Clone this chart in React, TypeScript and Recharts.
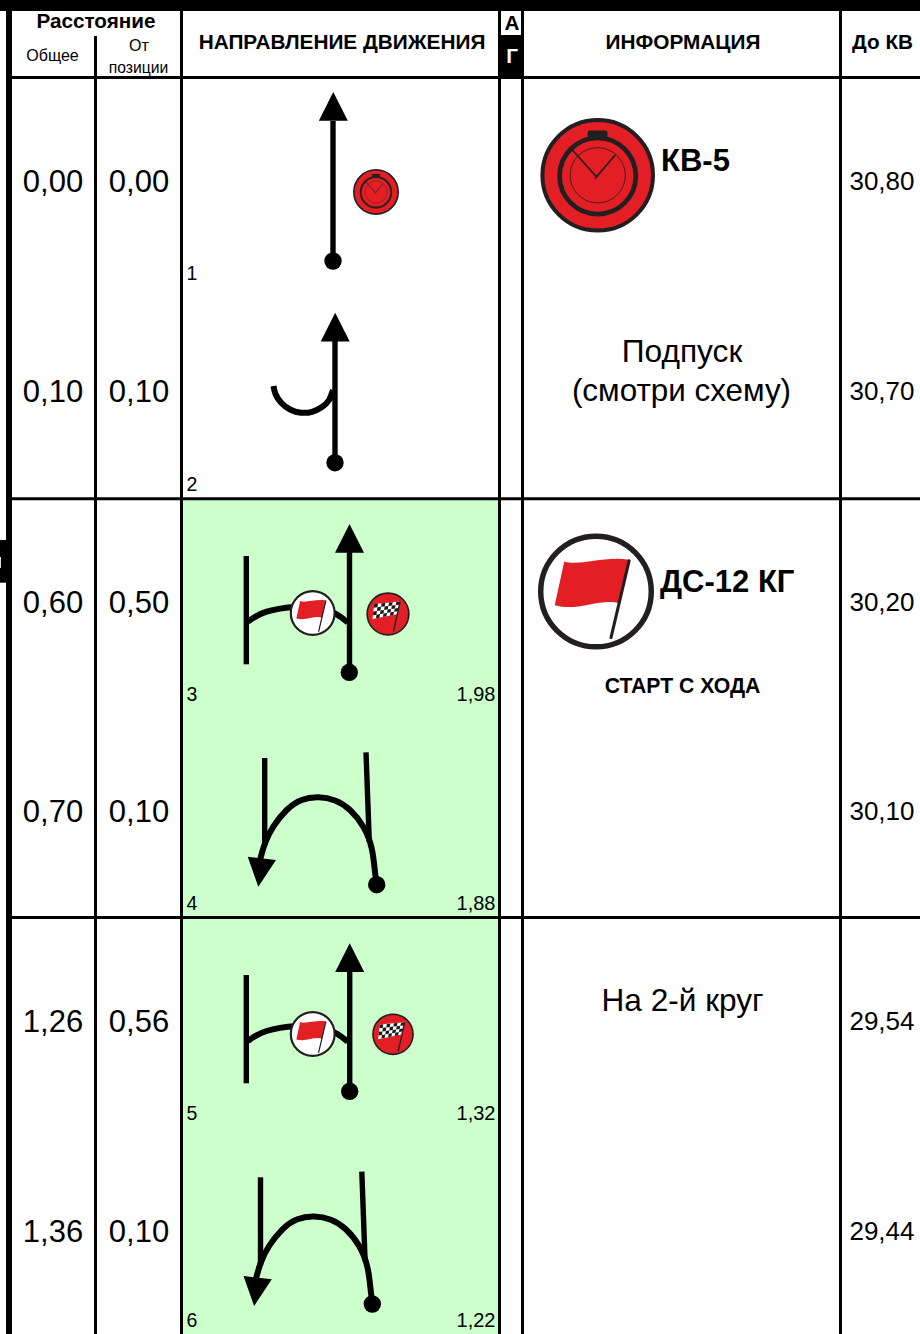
import React from "react";
import { ComposedChart, Line, Scatter, XAxis, YAxis, ReferenceArea } from "recharts";

// ---------- values ----------
const totalKm = ["0,00", "0,10", "0,60", "0,70", "1,26", "1,36"];
const fromPosition = ["0,00", "0,10", "0,50", "0,10", "0,56", "0,10"];
const toCheckpoint = ["30,80", "30,70", "30,20", "30,10", "29,54", "29,44"];
const rowNumbers = ["1", "2", "3", "4", "5", "6"];
const lapRemaining = ["", "", "1,98", "1,88", "1,32", "1,22"];
const headerBold = ["Расстояние", "НАПРАВЛЕНИЕ ДВИЖЕНИЯ", "ИНФОРМАЦИЯ", "До КВ"];
const headerSmall = ["Общее", "От", "позиции"];
const infoBig = ["КВ-5", "ДС-12 КГ"];
const infoNormal = ["Подпуск", "(смотри схему)", "На 2-й круг"];
const infoSmall = "СТАРТ С ХОДА";

// ---------- layout ----------
const W = 920;
const H = 1334;
const FONT = "'Liberation Sans', Arial, sans-serif";
const RED = "#e31e24";
const DARK = "#231f20";
const rowBase = [192, 402, 613, 822, 1032, 1242];
const numBase = [280, 491, 701, 910, 1120, 1327];

type P = { x: number; y: number };
const pts = (a: number[][], dx = 0, dy = 0): P[] => a.map(([x, y]) => ({ x: x + dx, y: y + dy }));

const gridV = [
  [95.5, 36, H],
  [181.5, 11, H],
  [499.5, 11, H],
  [522.5, 11, H],
  [840.5, 11, H],
];
const gridH = [77.5, 498.7, 917.5];

const hook = [[273.5, 386], [275.5, 394], [281, 402.5], [290, 409.5], [301, 412.7], [312, 411.8], [322, 407], [329, 400], [333, 390]];
const saddle = [[248, 621.7], [256, 616.3], [266.7, 611.7], [280, 608.6], [295, 607], [312, 608], [327, 610.5], [337, 614.5], [347.7, 622.3]];
const uturn = [[376.7, 884], [375, 872], [371.7, 848.3], [363.3, 826.7], [350, 810], [335, 800.5], [318.3, 797.3], [301.7, 800], [286.7, 810], [273.3, 826.7], [265, 843.3], [260, 860]];

const stems: P[][] = [
  pts([[333, 121], [333, 261]]),
  pts([[335, 341], [335, 463]]),
  pts([[349.5, 552], [349.5, 672]]),
  pts([[246.3, 556], [246.3, 664.3]]),
  pts([[264.7, 758], [264.7, 846]]),
  pts([[366, 752.3], [369.3, 842]]),
  pts([[349.7, 971], [349.7, 1091]]),
  pts([[246.3, 975], [246.3, 1083.3]]),
  pts([[264.7, 758], [264.7, 846]], -4.2, 419.3),
  pts([[366, 752.3], [369.3, 842]], -4.2, 419.3),
];
const curves: P[][] = [pts(hook), pts(saddle), pts(uturn), pts(saddle, 0, 419.3), pts(uturn, -4.2, 419.3)];

const arrowUp = [[0, 0], [14.5, 28.7], [-14.5, 28.7]];
const arrowDown = [[0, 0], [-10.6, -30], [17.7, -26.7]];
const arrows = [
  { x: 333.3, y: 92, v: arrowUp },
  { x: 335.2, y: 312.7, v: arrowUp },
  { x: 349.5, y: 524, v: arrowUp },
  { x: 258.3, y: 886.7, v: arrowDown },
  { x: 349.7, y: 943.3, v: arrowUp },
  { x: 254.1, y: 1306, v: arrowDown },
];
const dots = pts([[333, 261], [335, 462.7], [349.3, 672.3], [376.7, 884.7], [349.7, 1091.3], [372.3, 1304]]);
const clocks = [{ x: 376, y: 192, r: 23 }, { x: 597.7, y: 175.3, r: 57.3 }];
const flags = [{ x: 312.7, y: 613, r: 23 }, { x: 596, y: 591.5, r: 58 }, { x: 312.7, y: 1034, r: 23 }];
const checkers = [{ x: 388, y: 614, r: 21.5 }, { x: 393, y: 1034.3, r: 20.7 }];

type T = P & { t: string; size: number; bold?: boolean; anchor?: string; fill?: string };
const texts: T[] = [
  { x: 96, y: 28, t: headerBold[0], size: 20.7, bold: true },
  { x: 342, y: 49, t: headerBold[1], size: 20.8, bold: true },
  { x: 683, y: 49, t: headerBold[2], size: 20.8, bold: true },
  { x: 882.5, y: 49, t: headerBold[3], size: 20.7, bold: true },
  { x: 52.5, y: 61, t: headerSmall[0], size: 16 },
  { x: 139, y: 51, t: headerSmall[1], size: 16 },
  { x: 138.5, y: 73, t: headerSmall[2], size: 15.7 },
  { x: 512, y: 30, t: "А", size: 20.7, bold: true },
  { x: 512, y: 63, t: "Г", size: 20.7, bold: true, fill: "#fff" },
  { x: 661, y: 171, t: infoBig[0], size: 31, bold: true, anchor: "start" },
  { x: 660, y: 592, t: infoBig[1], size: 31, bold: true, anchor: "start" },
  { x: 682, y: 362, t: infoNormal[0], size: 31.7 },
  { x: 681.5, y: 401, t: infoNormal[1], size: 31.4 },
  { x: 682.5, y: 1011, t: infoNormal[2], size: 31.6 },
  { x: 682.5, y: 693, t: infoSmall, size: 21.2, bold: true },
  ...totalKm.map((t, i) => ({ x: 53, y: rowBase[i], t, size: 31 })),
  ...fromPosition.map((t, i) => ({ x: 139, y: rowBase[i], t, size: 31 })),
  ...toCheckpoint.map((t, i) => ({ x: 882, y: rowBase[i] - 1.7, t, size: 26 })),
  ...rowNumbers.map((t, i) => ({ x: 186.5, y: numBase[i], t, size: 19.5, anchor: "start" })),
  ...lapRemaining.map((t, i) => ({ x: 495.5, y: numBase[i], t, size: 20, anchor: "end" })).filter((d) => d.t),
];

// ---------- icon drawings ----------
function ClockIcon({ cx, cy, r }: { cx: number; cy: number; r: number }) {
  const s = r / 170;
  return (
    <g transform={`translate(${cx},${cy}) scale(${s}) translate(-293,-525)`}>
      <circle cx={293} cy={525} r={164} fill={RED} stroke={DARK} strokeWidth={12} />
      <circle cx={293} cy={527} r={113} fill="none" stroke={DARK} strokeWidth={14} />
      <circle cx={293} cy={525} r={82} fill="none" stroke={DARK} strokeWidth={2.5} />
      <rect x={263} y={392} width={59} height={22} rx={7} fill={DARK} />
      <path d="M215 447 L291 531 M345 465 L285 535" fill="none" stroke={DARK} strokeWidth={5} />
    </g>
  );
}
function FlagIcon({ cx, cy, r }: { cx: number; cy: number; r: number }) {
  const s = r / 170;
  return (
    <g transform={`translate(${cx},${cy}) scale(${s}) translate(-228,-245)`}>
      <circle cx={228} cy={245} r={162} fill="#fff" stroke={DARK} strokeWidth={16} />
      <path d="M135 157 C180 172 250 140 325 152 L298 280 C240 262 180 305 107 285 Z" fill={RED} />
      <path d="M325 155 L272 380" stroke={DARK} strokeWidth={9} strokeLinecap="round" fill="none" />
    </g>
  );
}
function CheckerIcon({ cx, cy, r }: { cx: number; cy: number; r: number }) {
  const s = r / 64;
  const tl = [583, 312], tr = [660, 305], br = [650, 343], bl = [578, 357];
  const at = (u: number, v: number) => {
    const ax = tl[0] + (tr[0] - tl[0]) * u, ay = tl[1] + (tr[1] - tl[1]) * u;
    const bx = bl[0] + (br[0] - bl[0]) * u, by = bl[1] + (br[1] - bl[1]) * u;
    return `${ax + (bx - ax) * v},${ay + (by - ay) * v}`;
  };
  const cells: string[] = [];
  const cols = 7, rws = 4;
  for (let i = 0; i < cols; i++)
    for (let j = 0; j < rws; j++)
      if ((i + j) % 2 === 0)
        cells.push(`${at(i / cols, j / rws)} ${at((i + 1) / cols, j / rws)} ${at((i + 1) / cols, (j + 1) / rws)} ${at(i / cols, (j + 1) / rws)}`);
  return (
    <g transform={`translate(${cx},${cy}) scale(${s}) translate(-624,-342)`}>
      <circle cx={624} cy={342} r={62} fill={RED} stroke={DARK} strokeWidth={5} />
      <polygon points={`${at(0, 0)} ${at(1, 0)} ${at(1, 1)} ${at(0, 1)}`} fill="#fff" />
      {cells.map((c, i) => <polygon key={i} points={c} fill="#1a1a1a" />)}
      <path d="M660 305 L640 395" stroke={DARK} strokeWidth={4} fill="none" />
    </g>
  );
}

const noDot = () => <g />;

export default function App() {
  return (
    <div style={{ position: "absolute", left: 0, top: 0, width: W, height: H, background: "#fff", overflow: "hidden" }}>
      <ComposedChart width={W} height={H} margin={{ top: 0, right: 0, bottom: 0, left: 0 }}>
        <XAxis type="number" dataKey="x" domain={[0, W]} hide allowDataOverflow />
        <YAxis type="number" dataKey="y" domain={[0, H]} reversed hide allowDataOverflow />

        <ReferenceArea x1={183} x2={498} y1={500} y2={916} fill="#ccffcc" fillOpacity={1} stroke="none" />
        <ReferenceArea x1={183} x2={498} y1={919} y2={H} fill="#ccffcc" fillOpacity={1} stroke="none" />
        <ReferenceArea x1={0} x2={W} y1={0} y2={11} fill="#000" fillOpacity={1} stroke="none" />
        <ReferenceArea x1={6} x2={12} y1={0} y2={H} fill="#000" fillOpacity={1} stroke="none" />
        <ReferenceArea x1={0} x2={6} y1={540} y2={582.7} fill="#000" fillOpacity={1} stroke="none" />
        <ReferenceArea x1={0} x2={1} y1={557} y2={568} fill="#ddd" fillOpacity={1} stroke="none" />
        <ReferenceArea x1={498} x2={524} y1={35} y2={77} fill="#000" fillOpacity={1} stroke="none" />

        {gridV.map(([x, a, b], i) => (
          <Line key={`v${i}`} data={pts([[x, a], [x, b]])} dataKey="y" stroke="#000" strokeWidth={3} dot={noDot} activeDot={false} legendType="none" isAnimationActive={false} />
        ))}
        {gridH.map((y, i) => (
          <Line key={`h${i}`} data={pts([[12, y], [W, y]])} dataKey="y" stroke="#000" strokeWidth={3} dot={noDot} activeDot={false} legendType="none" isAnimationActive={false} />
        ))}
        {stems.map((d, i) => (
          <Line key={`s${i}`} data={d} dataKey="y" type="linear" stroke="#000" strokeWidth={5.4} dot={noDot} activeDot={false} legendType="none" isAnimationActive={false} />
        ))}
        {curves.map((d, i) => (
          <Line key={`c${i}`} data={d} dataKey="y" type="natural" stroke="#000" strokeWidth={6} dot={noDot} activeDot={false} legendType="none" isAnimationActive={false} />
        ))}

        <Scatter data={dots} isAnimationActive={false} shape={(p: any) => <circle cx={p.cx} cy={p.cy} r={8.7} fill="#000" />} />
        <Scatter data={arrows} isAnimationActive={false} shape={(p: any) => (
          <polygon points={p.payload.v.map(([a, b]: number[]) => `${p.cx + a},${p.cy + b}`).join(" ")} fill="#000" />
        )} />
        <Scatter data={clocks} isAnimationActive={false} shape={(p: any) => <ClockIcon cx={p.cx} cy={p.cy} r={p.payload.r} />} />
        <Scatter data={flags} isAnimationActive={false} shape={(p: any) => <FlagIcon cx={p.cx} cy={p.cy} r={p.payload.r} />} />
        <Scatter data={checkers} isAnimationActive={false} shape={(p: any) => <CheckerIcon cx={p.cx} cy={p.cy} r={p.payload.r} />} />
        <Scatter data={texts} isAnimationActive={false} shape={(p: any) => {
          const d = p.payload as T;
          return (
            <text x={p.cx} y={p.cy} textAnchor={d.anchor ?? "middle"} fontFamily={FONT} fontSize={d.size} fontWeight={d.bold ? 700 : 400} fill={d.fill ?? "#000"}>
              {d.t}
            </text>
          );
        }} />
      </ComposedChart>
    </div>
  );
}
